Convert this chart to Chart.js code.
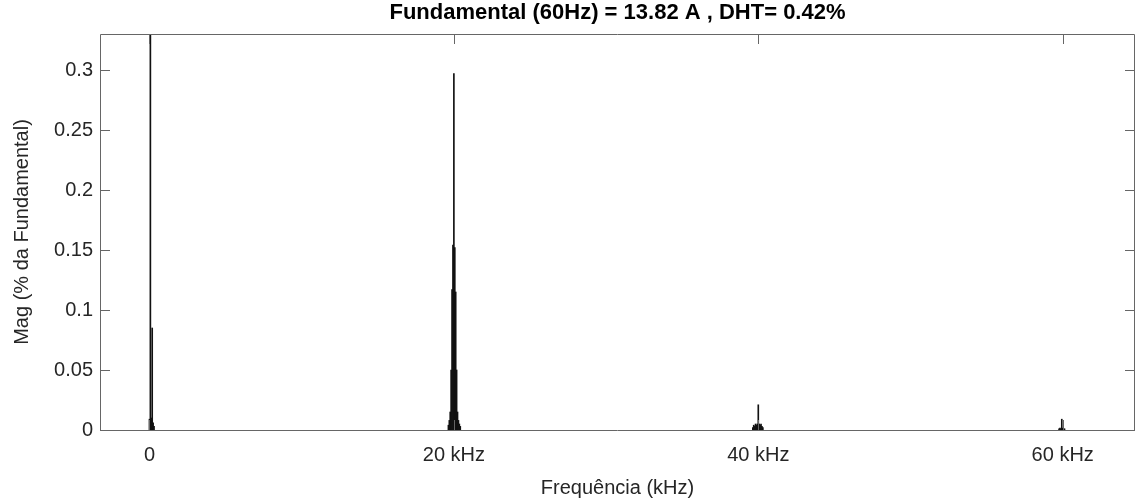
<!DOCTYPE html>
<html>
<head>
<meta charset="utf-8">
<script src="https://cdn.jsdelivr.net/npm/chart.js@4.4.1/dist/chart.umd.min.js"></script>
<style>
  body { margin: 0; background: #fff; }
  #wrap { width: 1135px; height: 500px; }
</style>
</head>
<body>
<div id="wrap"><canvas id="chart" width="1135" height="500"></canvas></div>
<script>
// spectrum: frequency in kHz, magnitude in % of fundamental
let freqLow = [0.00, 0.06, 0.12, 0.18, 0.24, 0.30];
let magLow  = [0.009, 100, 0.010, 0.085, 0.006, 0.003];

let freq20 = [19.64, 19.70, 19.76, 19.82, 19.88, 19.94, 20.00, 20.06, 20.12, 20.18, 20.24, 20.30, 20.36, 20.42];
let mag20  = [0.004, 0.008, 0.015, 0.050, 0.117, 0.154, 0.297, 0.152, 0.115, 0.050, 0.015, 0.008, 0.005, 0.003];

let freq40 = [39.64, 39.70, 39.76, 39.82, 39.88, 39.94, 40.00, 40.06, 40.12, 40.18, 40.24, 40.30];
let mag40  = [0.002, 0.004, 0.003, 0.005, 0.004, 0.005, 0.021, 0.005, 0.004, 0.005, 0.003, 0.002];

let freq60 = [59.76, 59.82, 59.88, 59.94, 60.00, 60.06, 60.12];
let mag60  = [0.001, 0.0015, 0.001, 0.009, 0.0015, 0.001, 0.001];

let xTicks = [0, 20, 40, 60];
let yTicks = [0, 0.05, 0.1, 0.15, 0.2, 0.25, 0.3];

let pts = [];
[[freqLow, magLow], [freq20, mag20], [freq40, mag40], [freq60, mag60]].forEach(function (s) {
  s[0].forEach(function (f, i) { pts.push({ x: f, y: s[1][i] }); });
});

const FONT = "'Liberation Sans', Arial, sans-serif";
const TXT = '#262626';

// matlab style box with inward ticks
let boxAxes = {
  id: 'boxAxes',
  afterDraw(chart) {
    const ctx = chart.ctx, a = chart.chartArea;
    const x = chart.scales.x, y = chart.scales.y;
    ctx.save();
    ctx.strokeStyle = '#666';
    ctx.lineWidth = 1;
    ctx.beginPath();
    ctx.rect(a.left + 0.5, a.top + 0.5, a.right - a.left - 1, a.bottom - a.top);
    xTicks.forEach(function (v) {
      let px = Math.round(x.getPixelForValue(v)) + 0.5;
      ctx.moveTo(px, a.bottom); ctx.lineTo(px, a.bottom - 10);
      ctx.moveTo(px, a.top); ctx.lineTo(px, a.top + 10);
    });
    yTicks.forEach(function (v) {
      let py = Math.round(y.getPixelForValue(v)) + 0.5;
      ctx.moveTo(a.left, py); ctx.lineTo(a.left + 10, py);
      ctx.moveTo(a.right, py); ctx.lineTo(a.right - 10, py);
    });
    ctx.stroke();
    ctx.restore();
  }
};

let ctx = document.getElementById('chart').getContext('2d');
let chart = new Chart(ctx, {
  type: 'bar',
  data: {
    datasets: [{
      data: pts,
      backgroundColor: '#111',
      borderWidth: 0,
      barThickness: 1,
      grouped: false
    }]
  },
  options: {
    responsive: false,
    animation: false,
    layout: { padding: { left: 0, right: 0, top: 0, bottom: 0 } },
    plugins: {
      legend: { display: false },
      tooltip: { enabled: false },
      title: {
        display: true,
        fullSize: false,
        text: 'Fundamental (60Hz) = 13.82 A , DHT= 0.42%',
        color: '#000',
        font: { family: FONT, size: 22, weight: 'bold', lineHeight: 1.2 },
        padding: { top: 0, bottom: 7.6 }
      }
    },
    scales: {
      x: {
        type: 'linear',
        offset: false,
        min: -3.25,
        max: 64.75,
        grid: { display: false, drawTicks: false },
        border: { display: false },
        afterBuildTicks: function (s) { s.ticks = xTicks.map(function (v) { return { value: v }; }); },
        afterFit: function (s) { s.height = 70; },
        ticks: {
          color: TXT,
          padding: 13,
          maxRotation: 0,
          font: { family: FONT, size: 20 },
          callback: function (v) { return v === 0 ? '0' : v + ' kHz'; }
        },
        title: {
          display: true,
          text: 'Frequência (kHz)',
          color: TXT,
          font: { family: FONT, size: 20 },
          padding: { top: 5, bottom: 0 }
        }
      },
      y: {
        min: 0,
        max: 0.33,
        grid: { display: false, drawTicks: false },
        border: { display: false },
        afterBuildTicks: function (s) { s.ticks = yTicks.map(function (v) { return { value: v }; }); },
        afterFit: function (s) { s.width = 100; },
        ticks: {
          color: TXT,
          padding: 7,
          font: { family: FONT, size: 20 },
          callback: function (v) { return String(v); }
        },
        title: {
          display: true,
          text: 'Mag (% da Fundamental)',
          color: TXT,
          font: { family: FONT, size: 20 },
          padding: { top: 10, bottom: 0 }
        }
      }
    }
  },
  plugins: [boxAxes]
});
</script>
</body>
</html>
